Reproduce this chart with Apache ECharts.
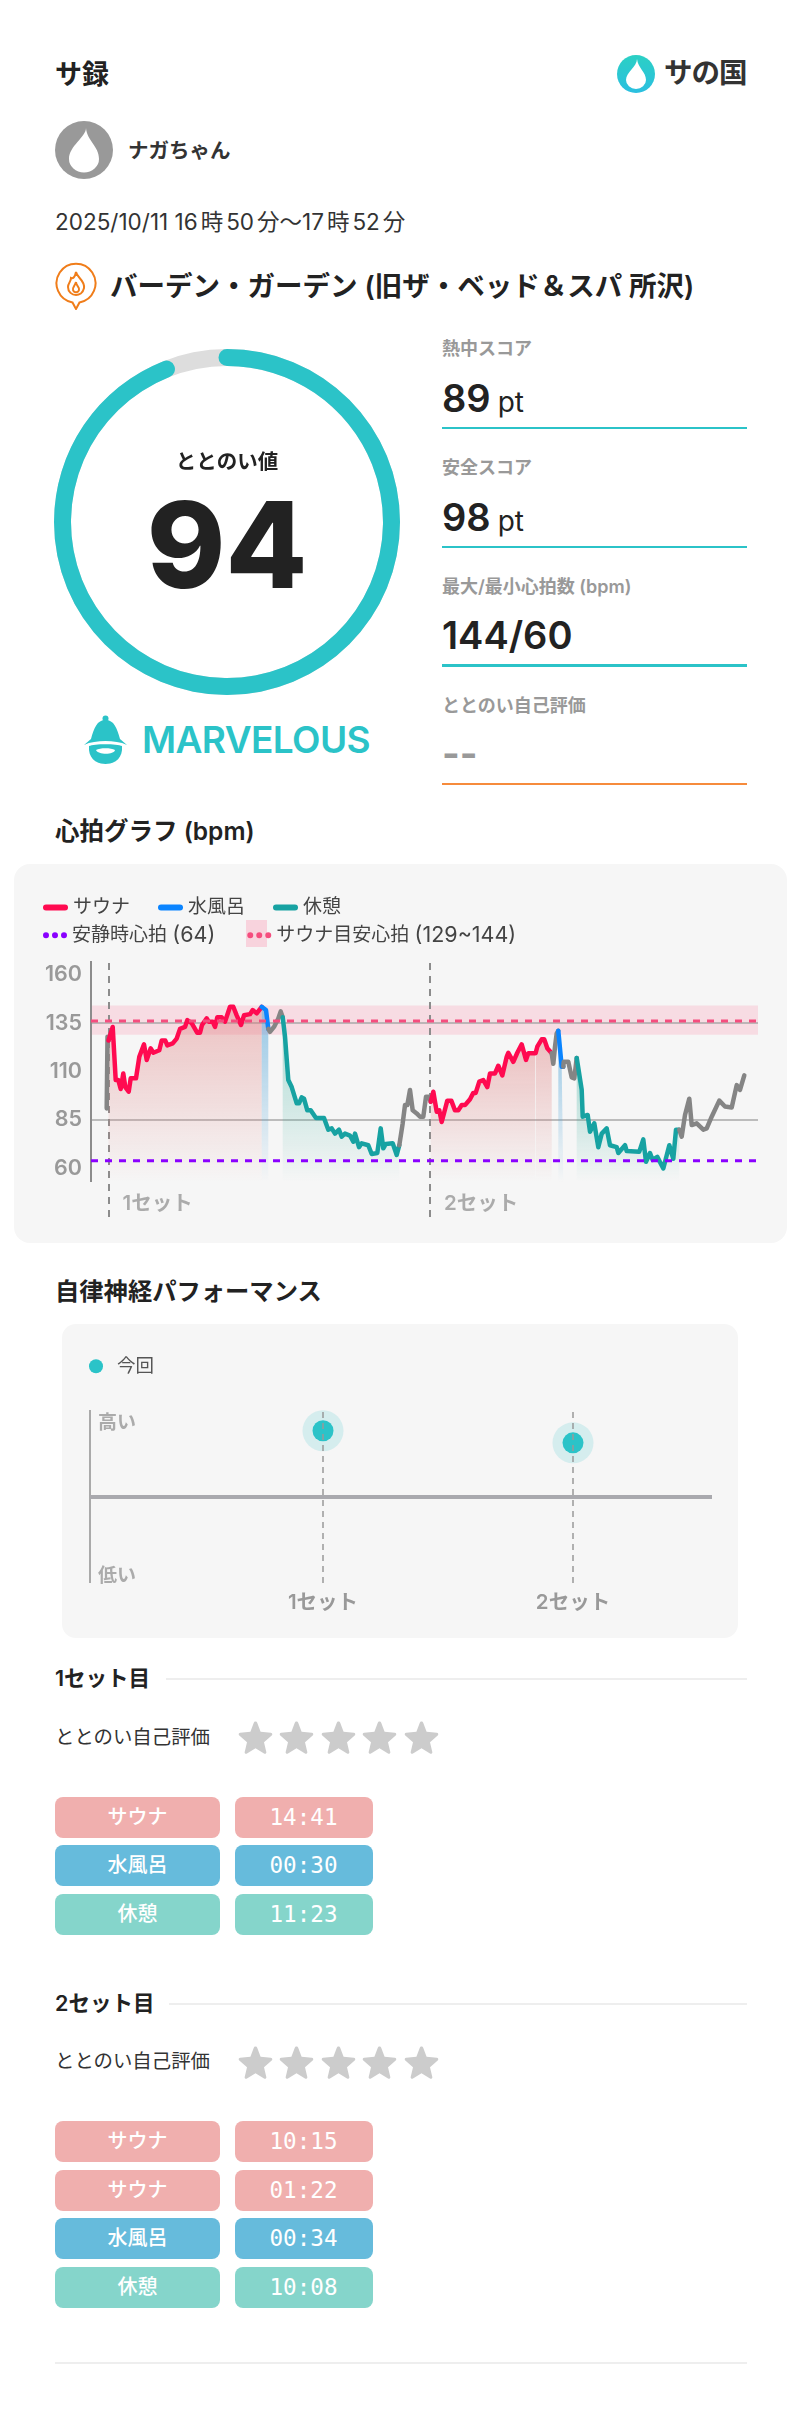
<!DOCTYPE html>
<html lang="ja">
<head>
<meta charset="utf-8">
<script src="https://cdn.jsdelivr.net/npm/echarts@6/dist/echarts.min.js"></script>
<style>
html,body{margin:0;padding:0;background:#fff}
#page{position:relative;width:800px;height:2419px;overflow:hidden;font-family:Inter,"Noto Sans CJK JP",sans-serif;color:#222}
.t{position:absolute;line-height:1;white-space:nowrap;transform:translateY(-50%)}
.h{font-weight:600;color:#222}
.lab{font-size:18px;font-weight:600;color:#999;left:442px}
.val{font-size:38px;font-weight:600;color:#222;left:442px}
.val small{font-size:28px;font-weight:400;margin-left:7px}
.rule{position:absolute;left:442px;width:305px;height:2.5px;background:#2bc3c8}
.thin{position:absolute;height:1.5px;background:#eee}
.pill{position:absolute;height:41px;line-height:41px;border-radius:8px;color:#fff;text-align:center}
.pn{left:55px;width:165px;font-size:20px;font-weight:500}
.pt{left:234.500px;width:138px;font-size:22.6px;font-family:"DejaVu Sans Mono",monospace}
.card{position:absolute;background:#f6f6f6}
.k{margin:0 3px}
.k2{margin-left:3px}
svg{position:absolute;display:block}
</style>
</head>
<body>
<div id="page">
  <div class="t" style="left:55px;top:74px;font-size:27px;font-weight:600">サ録</div>
  <svg style="left:617px;top:55px" width="38" height="38" viewBox="0 0 38 38">
    <defs><linearGradient id="lg" x1="0" y1="0" x2="0" y2="1"><stop offset="0" stop-color="#2bd0c4"/><stop offset="1" stop-color="#2bbfe0"/></linearGradient></defs>
    <circle cx="19" cy="19" r="19" fill="url(#lg)"/>
    <path d="M20 4C20 12 9 17 9 25A10 9 0 0 0 29 25C29 17 21 13 20 4Z" fill="#fff"/>
  </svg>
  <div class="t" style="left:664px;top:73px;font-size:28.500px;font-weight:700;color:#333;letter-spacing:-1px">サの国</div>

  <svg style="left:55px;top:121px" width="58" height="58" viewBox="0 0 58 58">
    <circle cx="29" cy="29" r="29" fill="#999"/>
    <path d="M31 7C31 16 14 25 14 38A15 13.500 0 0 0 44 38C44 25 32 20 31 7Z" fill="#fff"/>
  </svg>
  <div class="t" style="left:128px;top:151px;font-size:20.5px;font-weight:600;color:#333">ナガちゃん</div>
  <div class="t" style="left:55px;top:222px;font-size:22.5px;color:#333">2025/10/11 16<span class="k">時</span>50<span class="k2">分</span>～17<span class="k">時</span>52<span class="k2">分</span></div>

  <svg style="left:55px;top:262px" width="42" height="48" viewBox="0 0 42 48" fill="none" stroke="#f07d1a" stroke-width="2">
    <path d="M21 47L17.500 40.500A19.500 19.500 0 1 1 24.500 40.500Z" fill="#fff"/>
    <path d="M21 10C22 16 30 18 29 26C28 31 24 33 21 33C17 33 13 30 13 25C13 21 16 20 16 16C18 17 20 15 21 10Z"/>
    <path d="M21 20C21 24 25 25 24 28C23 31 19 31 18 28C17 26 20 24 21 20Z"/>
  </svg>
  <div class="t" style="left:110px;top:287px;font-size:27.500px;font-weight:600;color:#222">バーデン・ガーデン (旧ザ・ベッド＆スパ 所沢)</div>

  <div id="gaugeChart" style="position:absolute;left:37px;top:331.500px;width:380px;height:380px"></div>

  <svg style="left:84px;top:715px" width="43" height="49" viewBox="0 0 43 49" fill="#2bc3c8">
    <circle cx="21.500" cy="3.500" r="3"/>
    <path d="M21.500 5C13 5 10 13 7 24L0 30C6 27 14 26 21.500 26C29 26 37 27 43 30L36 24C33 13 30 5 21.500 5Z"/>
    <path d="M5 31C10 28.500 33 28.500 38 31C39 42 32 49 21.500 49C11 49 4 42 5 31Z"/>
    <path d="M12 35C16 32.500 27 32.500 31 35C30 40 14 40 12 35Z" fill="#fff"/>
  </svg>
  <div class="t" style="left:142px;top:739px;font-size:37px;font-weight:600;color:#2bc3c8;letter-spacing:-.6px">MARVELOUS</div>

  <div class="t lab" style="top:349px">熱中スコア</div>
  <div class="t val" style="top:398px">89<small>pt</small></div>
  <div class="rule" style="top:426.500px"></div>
  <div class="t lab" style="top:468px">安全スコア</div>
  <div class="t val" style="top:517px">98<small>pt</small></div>
  <div class="rule" style="top:545.500px"></div>
  <div class="t lab" style="top:587px">最大/最小心拍数 (bpm)</div>
  <div class="t val" style="top:635px">144/60</div>
  <div class="rule" style="top:664px"></div>
  <div class="t lab" style="top:705.500px">ととのい自己評価</div>
  <div class="t val" style="top:753px;color:#999;font-weight:700">--</div>
  <div class="rule" style="top:782.500px;background:#f68b3c"></div>

  <div class="t h" style="left:55px;top:831px;font-size:24.500px">心拍グラフ (bpm)</div>
  <div class="card" style="left:14px;top:864px;width:773px;height:379px;border-radius:16px"></div>
  <div id="hrChart" style="position:absolute;left:14px;top:864px;width:773px;height:379px"></div>

  <div class="t h" style="left:55px;top:1291px;font-size:24.300px">自律神経パフォーマンス</div>
  <div class="card" style="left:62px;top:1324px;width:676px;height:314px;border-radius:14px"></div>
  <div id="ansChart" style="position:absolute;left:62px;top:1324px;width:676px;height:314px"></div>

  <div id="sets"></div>
  <div class="thin" style="left:55px;top:2362px;width:692px"></div>
</div>

<script>
// ---------- scores ----------
const totalScore = 94;
const totalLabel = 'ととのい値';

// ---------- heart-rate trace: [tick (6 s each), bpm] ----------
const idleLead = [[-0.3,91],[0.5,128],[1.5,126]];
const sauna1 = [[1.5,126],[3,127],[5.7,133],[6.3,133],[8.7,105.6],[11.3,105.6],[13.7,101],[16.3,109],[18.3,102],[21.7,99.6],[23.7,106.5],[29,106.5],[32.3,117.6],[37,124],[39.7,116],[43.7,122],[46.3,119.7],[52.3,121],[54.7,126],[58.3,126],[60.3,123.5],[65.7,124.5],[69.7,127],[73,132],[78,133],[80.3,136.5],[84.7,135],[90.3,130],[93,130],[95,134],[99.7,137.4],[101.7,135.7],[103.7,136.5],[105.7,135.7],[108,133],[110.3,138],[114.7,138],[118,135.7],[123,143.4],[126.3,143.4],[129.7,139],[134,134],[137,139],[143,139.6],[145.7,141.7],[149.7,140],[154.7,143.4]];
const water1 = [[154.7,143.4],[155.7,144],[159,141.7],[161.3,132]];
const idle1 = [[161.3,132],[163,130.5],[163.7,130.5],[167,133],[171.3,137.4],[173.7,141],[175.7,138]];
const rest1 = [[175.7,138],[178,128],[181.3,105.6],[184.7,102],[189.7,93.6],[192,93.6],[194.7,96.7],[197,96],[200.3,90],[203.7,90],[209,86],[217,86],[221.3,80],[224.7,80.7],[228,78],[232,80],[234.7,76.4],[238,78],[243,77],[246.3,73.8],[248,78],[252,71],[254.7,73],[261.3,72],[264.7,67.5],[270.3,68],[273.7,80.7],[276.3,70.4],[278.7,72.6],[285.7,73],[289.7,67],[292.3,72]];
const idle2 = [[292.3,72],[295.7,83.3],[298,92.7],[300.3,92.7],[303,100.5],[305.7,90],[309.7,88.4],[313,86.7],[316.3,86.7],[319,97],[322,97],[323.7,94.4]];
const sauna2a = [[323.7,94.4],[326.3,99.6],[329.7,89.3],[332.3,90],[334.7,84],[340.3,95],[344.3,95],[348,90],[351.3,90],[354.7,92.7],[358,92.7],[363,95.7],[366.3,99],[368.7,99],[372.3,104.8],[376.3,105.6],[380.3,102],[383,109],[388,109],[391.3,113],[395.3,108],[399.7,117.6],[401.3,119.7],[406.3,115],[410.3,119.7],[414.7,124],[419,116],[421.3,119.4],[428,119.4]];
const sauna2b = [[428.7,119.6],[430.3,122.8],[434.7,126.6],[437.3,126.6],[440.3,122],[444.7,119.4]];
const idle3 = [[444.7,119.4],[446.3,114],[448,122.8],[449.7,129.7],[451.3,131]];
const water2 = [[451.3,131],[453,130.5],[454.7,112.5],[456.3,112.5]];
const idle4 = [[456.3,112.5],[456.7,115],[461.3,115],[464.7,107],[467.3,106.5],[469.7,117]];
const rest2 = [[469.7,117],[474.7,100.5],[475.7,86.7],[480.7,87.6],[483,79],[487.3,83.3],[491.3,71],[494.7,78],[499.7,80.7],[503,72],[509.7,71],[511.3,68],[518,72],[519.7,69],[532.3,68.7],[536.3,75],[539,63.5],[543,68],[545.7,64.4],[550.3,66],[556.3,60],[562.3,72],[566.3,65],[569,80],[572.3,80]];
const idle5 = [[572.3,80],[574.7,76.4],[578,87.6],[582.3,96],[584.7,82.4],[589.7,83.3],[596.3,80],[599.7,80.7],[604.7,86.7],[612.3,95],[618,92],[624.7,91.5],[629.7,103],[633,100.5],[637.3,108]];

const yTicks = [60,85,110,135,160];
const gridLevels = [135,85];
const restingHr = 64;
const zoneLow = 129, zoneHigh = 144, zoneMid = 136;
const setTicks = [1.5,323];
const setNames = ['1セット','2セット'];
const hrStart = -16, hrEnd = 651;

// ---------- autonomic performance ----------
const ansX = [1,2];
const ansY = [76,62];
const ansNames = ['1セット','2セット'];

// ---------- session tables ----------
const set1Rows = ['サウナ','水風呂','休憩'];
const set1Times = ['14:41','00:30','11:23'];
const set2Rows = ['サウナ','サウナ','水風呂','休憩'];
const set2Times = ['10:15','01:22','00:34','10:08'];
const phaseColors = {'サウナ':'#f0afae','水風呂':'#66bbdc','休憩':'#85d5cb'};
const starCount = 5;

const FONT = 'Inter, "Noto Sans CJK JP", sans-serif';

// ---------- gauge ----------
echarts.init(document.getElementById('gaugeChart')).setOption({
  animation:false,
  series:[{
    type:'gauge', center:['50%','50%'], radius:173, min:0, max:100,
    startAngle:90, endAngle:-270,
    pointer:{show:false},
    axisLine:{lineStyle:{width:17,color:[[1,'#dddddd']]}},
    progress:{show:true,width:17,roundCap:true,itemStyle:{color:'#2bc3c8'}},
    axisTick:{show:false},splitLine:{show:false},axisLabel:{show:false},
    title:{offsetCenter:[0,-59],fontFamily:FONT,fontSize:20.5,fontWeight:600,color:'#222'},
    detail:{offsetCenter:[0,30],fontFamily:FONT,fontSize:119,fontWeight:800,color:'#222',valueAnimation:false,formatter:'{value}'},
    data:[{value:totalScore,name:totalLabel}]
  }]
});

// ---------- heart rate ----------
const COL = {sauna:'#ff0a50',water:'#0a84ff',rest:'#17a2a2',idle:'#858585'};
function grad(rgb,a){
  return new echarts.graphic.LinearGradient(0,0,0,1,[
    {offset:0,color:`rgba(${rgb},${a})`},
    {offset:1,color:`rgba(${rgb},0)`}]);
}
function seg(name,data,color,fill){
  const s = {name,type:'line',data,showSymbol:false,symbol:'none',smooth:false,z:5,clip:false,
    lineStyle:{color,width:4.5,cap:'round',join:'round'},itemStyle:{color}};
  if(fill) s.areaStyle = {color:fill,origin:53,opacity:1};
  return s;
}
const sFill = () => grad('222,120,120',0.42);
const wFill = () => grad('70,160,215',0.55);
const rFill = () => grad('40,170,150',0.38);
const dots3 = 'path://M3 0a3 3 0 1 0 .01 0ZM12 0a3 3 0 1 0 .01 0ZM21 0a3 3 0 1 0 .01 0Z';
const pillLine = 'path://M3 0H22a3 3 0 0 1 0 6H3a3 3 0 0 1 0-6Z';
const legendRich = {
  j:{fontSize:19,color:'#444',fontFamily:FONT},
  n:{fontSize:21.5,color:'#444',fontFamily:FONT}
};
const restLegend = '安静時心拍 ('+restingHr+')';
const zoneLegend = 'サウナ目安心拍 ('+zoneLow+'~'+zoneHigh+')';
function legendText(name){
  const m = name.match(/^(.*?) (\(.*\))$/);
  return m ? '{j|'+m[1]+'} {n|'+m[2]+'}' : '{j|'+name+'}';
}

echarts.init(document.getElementById('hrChart')).setOption({
  animation:false,
  textStyle:{fontFamily:FONT},
  grid:{left:77,right:29,top:97,height:256},
  legend:[
    {left:29,top:34,padding:0,orient:'horizontal',itemWidth:25,itemHeight:6,itemGap:28,icon:pillLine,
      data:['サウナ','水風呂','休憩'],formatter:legendText,
      textStyle:{rich:legendRich,fontSize:19,color:'#444',fontFamily:FONT},selectedMode:false},
    {left:29,top:60.500,padding:0,orient:'horizontal',itemWidth:24,itemHeight:6,itemGap:32,icon:dots3,
      data:[restLegend,zoneLegend],formatter:legendText,
      textStyle:{rich:legendRich,fontSize:19,color:'#444',fontFamily:FONT},selectedMode:false}
  ],
  graphic:[{type:'rect',left:232,top:56,shape:{width:21,height:27},style:{fill:'#f8d3dd'},z:1}],
  xAxis:{type:'value',min:hrStart,max:hrEnd,show:false},
  yAxis:{type:'value',min:35,max:167,
    axisLine:{show:false},axisTick:{show:false},splitLine:{show:false},
    axisLabel:{customValues:yTicks,margin:9,padding:[3,0,0,0],fontSize:21.500,fontWeight:600,color:'#999',fontFamily:FONT}},
  series:[
    {name:'_frame',type:'line',data:[],symbol:'none',z:3,silent:true,
      markLine:{silent:true,symbol:'none',animation:false,label:{show:false},data:[
        ...gridLevels.map(v=>[{coord:[hrStart,v],lineStyle:{color:'#a9a9a9',width:1.5,type:'solid'}},{coord:[hrEnd,v]}]),
        [{coord:[hrStart,53],lineStyle:{color:'#8c8c8c',width:2,type:'solid'}},{coord:[hrStart,167]}]
      ]}},
    {name:'_sets',type:'line',data:[],symbol:'none',z:4,silent:true,
      markLine:{silent:true,symbol:'none',animation:false,label:{show:false},
        lineStyle:{color:'#8c8c8c',width:2,type:[7,6]},
        data:setTicks.map(t=>[{coord:[t,35]},{coord:[t,167]}])}},
    seg('_i0',idleLead,COL.idle),
    seg('サウナ',sauna1,COL.sauna,sFill()),
    seg('水風呂',water1,COL.water,wFill()),
    seg('_i1',idle1,COL.idle),
    seg('休憩',rest1,COL.rest,rFill()),
    seg('_i2',idle2,COL.idle),
    seg('サウナ',sauna2a,COL.sauna,sFill()),
    seg('サウナ',sauna2b,COL.sauna,sFill()),
    seg('_i3',idle3,COL.idle),
    seg('水風呂',water2,COL.water,wFill()),
    seg('_i4',idle4,COL.idle),
    seg('休憩',rest2,COL.rest,rFill()),
    seg('_i5',idle5,COL.idle),
    {name:zoneLegend,type:'line',z:7,symbol:'none',
      data:[[hrStart,zoneMid],[hrEnd,zoneMid]],
      itemStyle:{color:'#f54d7e'},lineStyle:{color:'#f54d7e',width:3,type:[7,7]},
      markArea:{silent:true,z:1,itemStyle:{color:'rgba(255,90,130,0.16)'},
        data:[[{coord:[hrStart,zoneLow]},{coord:[hrEnd,zoneHigh]}]]}},
    {name:restLegend,type:'line',z:7,symbol:'none',
      data:[[hrStart,restingHr],[hrEnd,restingHr]],
      itemStyle:{color:'#8a00ff'},lineStyle:{color:'#8a00ff',width:3,type:[7,7]}},
    {name:'_setLabels',type:'scatter',symbolSize:0,silent:true,z:8,
      data:setTicks.map((t,i)=>({value:[t,42],label:{formatter:setNames[i]}})),
      label:{show:true,position:'right',distance:14,fontSize:20.500,fontWeight:600,color:'#999',fontFamily:FONT}}
  ]
});

// ---------- autonomic ----------
const teal = '#2bc3c8';
const ansL = 0.068, ansR = 2.556;
echarts.init(document.getElementById('ansChart')).setOption({
  animation:false,
  textStyle:{fontFamily:FONT},
  grid:{left:28,right:26,top:86,bottom:55},
  legend:{left:27,top:33,padding:0,itemWidth:14,itemHeight:14,icon:'circle',data:['今回'],selectedMode:false,
    textStyle:{fontSize:18.500,color:'#555',fontFamily:FONT,padding:[0,0,0,9]}},
  xAxis:{type:'value',min:ansL,max:ansR,
    axisLine:{show:false},axisTick:{show:false},splitLine:{show:false},
    axisLabel:{customValues:ansX,formatter:v=>ansNames[v-1],margin:10,fontSize:20.500,fontWeight:600,color:'#999',fontFamily:FONT}},
  yAxis:{type:'value',min:-100,max:100,
    axisLine:{show:false},axisTick:{show:false},splitLine:{show:false},axisLabel:{show:false}},
  series:[
    {name:'_axes',type:'line',data:[],symbol:'none',z:1,silent:true,
      markLine:{silent:true,symbol:'none',animation:false,
        data:[
          [{coord:[ansL,-100],lineStyle:{color:'#aaaaaa',width:2,type:'solid'},
            label:{show:false}},{coord:[ansL,100]}],
          [{coord:[ansL,0],lineStyle:{color:'#a9a9ae',width:4,type:'solid'},label:{show:false}},{coord:[ansR,0]}],
          ...ansX.map(x=>[{coord:[x,-100],lineStyle:{color:'#999',width:1.5,type:[6,5]},label:{show:false}},{coord:[x,100]}])
        ]}},
    {name:'_levels',type:'scatter',symbolSize:0,silent:true,z:2,
      data:[{value:[ansL,85],label:{formatter:'高い'}},{value:[ansL,-92],label:{formatter:'低い'}}],
      label:{show:true,position:'right',distance:8,fontSize:19,fontWeight:600,color:'#999',fontFamily:FONT}},
    {name:'_halo',type:'scatter',symbolSize:41,z:3,silent:true,
      data:ansX.map((x,i)=>[x,ansY[i]]),itemStyle:{color:'rgba(43,195,200,0.2)'}},
    {name:'今回',type:'scatter',symbolSize:21,z:4,
      data:ansX.map((x,i)=>[x,ansY[i]]),itemStyle:{color:teal,opacity:1}}
  ]
});

// ---------- session tables ----------
const host = document.getElementById('sets');
function el(cls,style,txt){const d=document.createElement('div');d.className=cls;d.style.cssText=style;if(txt)d.textContent=txt;host.appendChild(d);return d;}
const STAR='M17.500 1.500C18.300 1.500 18.900 2 19.200 2.800L22.600 11.800L32.800 12.700C34.300 12.900 34.800 14.400 33.700 15.400L26 22.300L28.300 32C28.600 33.400 27.200 34.300 26 33.600L17.500 28.300L9 33.600C7.800 34.300 6.400 33.400 6.700 32L9 22.300L1.300 15.400C.2 14.400 .7 12.900 2.200 12.700L12.400 11.800L15.800 2.800C16.100 2 16.700 1.500 17.500 1.500Z';
function drawSet(title,titleY,lineX,rateY,starTop,rows,times,pillTops){
  el('t','left:55px;top:'+titleY+'px;font-size:21.500px;font-weight:600;color:#222',title);
  el('thin','left:'+lineX+'px;top:'+(titleY-1)+'px;width:'+(747-lineX)+'px');
  el('t','left:55px;top:'+rateY+'px;font-size:19.400px;color:#333','ととのい自己評価');
  for(let i=0;i<starCount;i++){
    const s=document.createElementNS('http://www.w3.org/2000/svg','svg');
    s.setAttribute('width','35');s.setAttribute('height','35');s.setAttribute('viewBox','0 0 35 35');
    s.style.cssText='left:'+(237.5+i*41.6)+'px;top:'+starTop+'px';
    s.innerHTML='<path d="'+STAR+'" fill="#cccccc"/>';
    host.appendChild(s);
  }
  rows.forEach((r,i)=>{
    const c=phaseColors[r];
    el('pill pn','top:'+pillTops[i]+'px;background:'+c,r);
    el('pill pt','top:'+pillTops[i]+'px;background:'+c,times[i]);
  });
}
drawSet('1セット目',1679,166,1738,1720,set1Rows,set1Times,[1797,1845,1893.500]);
drawSet('2セット目',2004,168.500,2062,2044.500,set2Rows,set2Times,[2121,2169.500,2218,2266.500]);
</script>
</body>
</html>
